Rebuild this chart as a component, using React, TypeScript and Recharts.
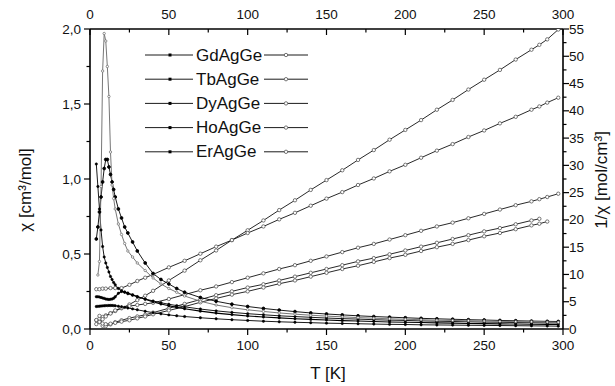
import React from 'react';
import { LineChart, Line, XAxis, YAxis } from 'recharts';

// Temperatures (K) for susceptibility curves
const tChi = [4,5,6,7,8,9,10,11,12,13,14,15,16,18,20,22,24,27,30,35,40,45,50,55,60,70,80,90,100,110,120,130,140,150,160,170,180,190,200,210,220,230,240,250,260,270,280,290,297];
// chi [cm3/mol]
const chiGd = [0.215,0.215,0.213,0.21,0.207,0.204,0.2,0.198,0.197,0.198,0.2,0.205,0.215,0.238,0.25,0.247,0.24,0.228,0.216,0.198,0.181,0.167,0.155,0.144,0.135,0.119,0.106,0.096,0.087,0.08,0.074,0.068,0.064,0.06,0.056,0.053,0.05,0.047,0.045,0.043,0.041,0.039,0.037,0.036,0.034,0.033,0.032,0.031,0.03];
const chiTb = [1.1,0.95,0.8,0.66,0.55,0.48,0.44,0.41,0.38,0.35,0.33,0.31,0.295,0.27,0.255,0.245,0.235,0.225,0.215,0.2,0.187,0.175,0.165,0.156,0.148,0.133,0.121,0.111,0.102,0.095,0.088,0.083,0.078,0.073,0.069,0.066,0.062,0.059,0.057,0.054,0.052,0.05,0.048,0.046,0.045,0.043,0.042,0.041,0.04];
const chiDy = [0.6,0.68,0.78,0.88,0.98,1.07,1.13,1.13,1.08,1.03,0.98,0.93,0.88,0.8,0.74,0.68,0.64,0.58,0.52,0.44,0.37,0.33,0.3,0.27,0.245,0.21,0.185,0.165,0.15,0.137,0.126,0.116,0.107,0.1,0.094,0.088,0.083,0.079,0.075,0.071,0.068,0.065,0.062,0.06,0.057,0.055,0.053,0.051,0.05];
const chiHo = [null,0.36,0.45,0.95,1.72,1.97,1.92,1.75,1.55,1.18,0.96,0.87,0.8,0.7,0.63,0.57,0.52,0.48,0.44,0.39,0.34,0.3,0.27,0.245,0.22,0.185,0.16,0.142,0.128,0.117,0.107,0.099,0.092,0.086,0.081,0.076,0.072,0.068,0.065,0.062,0.059,0.057,0.055,0.053,0.051,0.049,0.048,0.046,0.045];
const chiEr = [0.15,0.151,0.152,0.153,0.154,0.155,0.156,0.156,0.157,0.157,0.157,0.156,0.155,0.152,0.148,0.144,0.14,0.134,0.128,0.118,0.109,0.101,0.094,0.088,0.083,0.075,0.068,0.062,0.057,0.052,0.048,0.045,0.042,0.039,0.037,0.035,0.033,0.031,0.03,0.028,0.027,0.026,0.025,0.024,0.023,0.022,0.021,0.02,0.019];

// Temperatures (K) for inverse susceptibility curves
const tInv = [4,6,8,10,13,16,20,25,30,35,40,50,60,70,80,90,100,110,120,130,140,150,160,170,180,190,200,210,220,230,240,250,260,270,280,285,290,297];
// 1/chi [mol/cm3]
const invEr = [1.6,1.9,2.2,2.5,2.9,3.3,3.8,4.5,5.3,6.1,7.0,8.9,10.7,12.6,14.4,16.3,18.1,19.9,21.8,23.6,25.5,27.3,29.1,31.0,32.8,34.7,36.5,38.3,40.2,42.0,43.9,45.7,47.5,49.4,51.2,52.1,53.1,54.9];
const invGd = [7.3,7.3,7.4,7.4,7.5,7.5,7.5,8.1,8.8,9.4,10.0,11.3,12.5,13.8,15.1,16.3,17.6,18.8,20.1,21.3,22.6,23.9,25.1,26.4,27.6,28.9,30.1,31.4,32.7,33.9,35.2,36.4,37.7,38.9,40.2,40.8,41.5,42.4];
const invTb = [0.9,1.25,1.8,2.3,2.85,3.4,3.9,4.2,4.4,4.6,4.8,5.5,6.3,7.1,7.8,8.6,9.4,10.2,11.0,11.7,12.5,13.3,14.1,14.9,15.6,16.4,17.2,18.0,18.8,19.5,20.3,21.1,21.9,22.7,23.4,23.8,24.2,24.8];
const invHo = [null,2.4,0.58,0.52,0.85,1.25,1.6,2.0,2.3,2.6,3.0,3.8,4.6,5.4,6.2,6.9,7.6,8.2,8.9,9.6,10.3,11.0,11.7,12.4,13.0,13.7,14.4,15.1,15.8,16.5,17.2,17.9,18.5,19.2,19.9,20.2,null,null];
const invDy = [1.65,1.3,1.0,0.88,0.97,1.13,1.35,1.6,1.95,2.3,2.7,3.4,4.1,4.9,5.6,6.3,6.9,7.6,8.3,8.9,9.6,10.3,11.0,11.6,12.3,13.0,13.6,14.3,15.0,15.6,16.3,17.0,17.6,18.3,19.0,19.3,19.7,null];

// Axis ticks and labels
const xTicks = [0,25,50,75,100,125,150,175,200,225,250,275,300];
const chiTicks = [0,0.25,0.5,0.75,1,1.25,1.5,1.75,2];
const invTicks = [0,2.5,5,7.5,10,12.5,15,17.5,20,22.5,25,27.5,30,32.5,35,37.5,40,42.5,45,47.5,50,52.5,55];
const legendNames = ['GdAgGe','TbAgGe','DyAgGe','HoAgGe','ErAgGe'];
const xTitle = 'T [K]';
const chiTitle = 'χ [cm³/mol]';
const invTitle = '1/χ [mol/cm³]';

const chiRows = tChi.map((t, i) => ({ t, gd: chiGd[i], tb: chiTb[i], dy: chiDy[i], ho: chiHo[i], er: chiEr[i] }));
const invRows = tInv.map((t, i) => ({ t, gd: invGd[i], tb: invTb[i], dy: invDy[i], ho: invHo[i], er: invEr[i] }));

const FONT = '"Liberation Sans", Arial, sans-serif';

const BottomTick = (p: any) => {
  const v = p.payload.value;
  const major = v % 50 === 0;
  return (
    <g>
      <line x1={p.x} x2={p.x} y1={p.y} y2={p.y + (major ? 6 : 3.5)} stroke="#000" strokeWidth={1.2} />
      {major && <text x={p.x} y={p.y + 21} textAnchor="middle" fontSize={13.5} fontFamily={FONT} fill="#111">{v}</text>}
    </g>
  );
};
const TopTick = (p: any) => {
  const v = p.payload.value;
  const major = v % 50 === 0;
  return (
    <g>
      <line x1={p.x} x2={p.x} y1={p.y} y2={p.y + (major ? 6 : 3.5)} stroke="#000" strokeWidth={1.2} />
      {major && <text x={p.x} y={p.y - 10} textAnchor="middle" fontSize={13.5} fontFamily={FONT} fill="#111">{v}</text>}
    </g>
  );
};
const LeftTick = (p: any) => {
  const v = p.payload.value;
  const major = Math.abs(v * 2 - Math.round(v * 2)) < 1e-6;
  return (
    <g>
      <line x1={p.x} x2={p.x - (major ? 6 : 3.5)} y1={p.y} y2={p.y} stroke="#000" strokeWidth={1.2} />
      {major && <text x={p.x - 9} y={p.y + 4.5} textAnchor="end" fontSize={13.5} fontFamily={FONT} fill="#111">{v.toFixed(1).replace('.', ',')}</text>}
    </g>
  );
};
const RightTick = (p: any) => {
  const v = p.payload.value;
  const major = v % 5 === 0;
  return (
    <g>
      <line x1={p.x} x2={p.x + (major ? 6 : 3.5)} y1={p.y} y2={p.y} stroke="#000" strokeWidth={1.2} />
      {major && <text x={p.x + 6} y={p.y + 4.5} textAnchor="start" fontSize={13.5} fontFamily={FONT} fill="#111">{v}</text>}
    </g>
  );
};

const chiDot = { r: 1.2, fill: '#000', stroke: '#000', strokeWidth: 0.5 };
const invDot = { r: 1.7, fill: '#fff', stroke: '#555', strokeWidth: 0.8 };
const axisStyle = { stroke: '#000', strokeWidth: 1.6 };

export default function App() {
  const legY = (i: number) => 55 + 24.2 * i;
  return (
    <div style={{ position: 'absolute', left: 0, top: 0, width: 615, height: 386, background: '#fff' }}>
      <LineChart width={615} height={386} margin={{ top: 0, right: 0, bottom: 0, left: 0 }}>
        <XAxis xAxisId="b" type="number" dataKey="t" domain={[0, 300]} ticks={xTicks} interval={0} orientation="bottom" height={57} tickSize={0} tickMargin={0} tick={BottomTick} axisLine={axisStyle} tickLine={false} allowDataOverflow />
        <XAxis xAxisId="t" type="number" dataKey="t" domain={[0, 300]} ticks={xTicks} interval={0} orientation="top" height={29} tickSize={0} tickMargin={0} tick={TopTick} axisLine={axisStyle} tickLine={false} allowDataOverflow />
        <YAxis yAxisId="chi" type="number" orientation="left" width={90} domain={[0, 2]} ticks={chiTicks} interval={0} tickSize={0} tickMargin={0} tick={LeftTick} axisLine={axisStyle} tickLine={false} allowDataOverflow />
        <YAxis yAxisId="inv" type="number" orientation="right" width={52} domain={[0, 55]} ticks={invTicks} interval={0} tickSize={0} tickMargin={0} tick={RightTick} axisLine={axisStyle} tickLine={false} allowDataOverflow />

        <Line data={invRows} xAxisId="b" yAxisId="inv" dataKey="er" stroke="#111" strokeWidth={0.9} dot={invDot} isAnimationActive={false} />
        <Line data={invRows} xAxisId="b" yAxisId="inv" dataKey="gd" stroke="#111" strokeWidth={0.9} dot={invDot} isAnimationActive={false} />
        <Line data={invRows} xAxisId="b" yAxisId="inv" dataKey="tb" stroke="#111" strokeWidth={0.9} dot={invDot} isAnimationActive={false} />
        <Line data={invRows} xAxisId="b" yAxisId="inv" dataKey="ho" stroke="#111" strokeWidth={0.9} dot={invDot} isAnimationActive={false} />
        <Line data={invRows} xAxisId="b" yAxisId="inv" dataKey="dy" stroke="#111" strokeWidth={0.9} dot={invDot} isAnimationActive={false} />

        <Line data={chiRows} xAxisId="b" yAxisId="chi" dataKey="gd" stroke="#000" strokeWidth={1.1} dot={chiDot} isAnimationActive={false} />
        <Line data={chiRows} xAxisId="b" yAxisId="chi" dataKey="tb" stroke="#000" strokeWidth={0.9} dot={chiDot} isAnimationActive={false} />
        <Line data={chiRows} xAxisId="b" yAxisId="chi" dataKey="dy" stroke="#000" strokeWidth={0.9} dot={{ r: 1.4, fill: '#000', stroke: '#000' }} isAnimationActive={false} />
        <Line data={chiRows} xAxisId="b" yAxisId="chi" dataKey="ho" stroke="#777" strokeWidth={1} dot={{ r: 1.2, fill: '#fff', stroke: '#666', strokeWidth: 0.7 }} isAnimationActive={false} />
        <Line data={chiRows} xAxisId="b" yAxisId="chi" dataKey="er" stroke="#000" strokeWidth={0.9} dot={chiDot} isAnimationActive={false} />
      </LineChart>
      <svg width={615} height={386} style={{ position: 'absolute', left: 0, top: 0, pointerEvents: 'none' }} fontFamily={FONT}>
        <text transform="translate(25,190) rotate(-90)" textAnchor="middle" dominantBaseline="central" fontSize={17} fill="#111">{chiTitle}</text>
        <text transform="translate(601,180) rotate(-90)" textAnchor="middle" dominantBaseline="central" fontSize={17} fill="#111">{invTitle}</text>
        <text x={328} y={379} textAnchor="middle" fontSize={17} fill="#111">{xTitle}</text>
        {legendNames.map((n, i) => (
          <g key={n}>
            <line x1={145} x2={193} y1={legY(i)} y2={legY(i)} stroke="#000" strokeWidth={0.9} />
            <rect x={168.5} y={legY(i) - 1.5} width={3} height={3} fill="#000" />
            <text x={196} y={legY(i)} dominantBaseline="central" fontSize={17} fill="#111">{n}</text>
            <line x1={264} x2={308} y1={legY(i)} y2={legY(i)} stroke="#000" strokeWidth={0.9} />
            <circle cx={286} cy={legY(i)} r={1.7} fill="#fff" stroke="#555" strokeWidth={0.8} />
          </g>
        ))}
      </svg>
    </div>
  );
}
